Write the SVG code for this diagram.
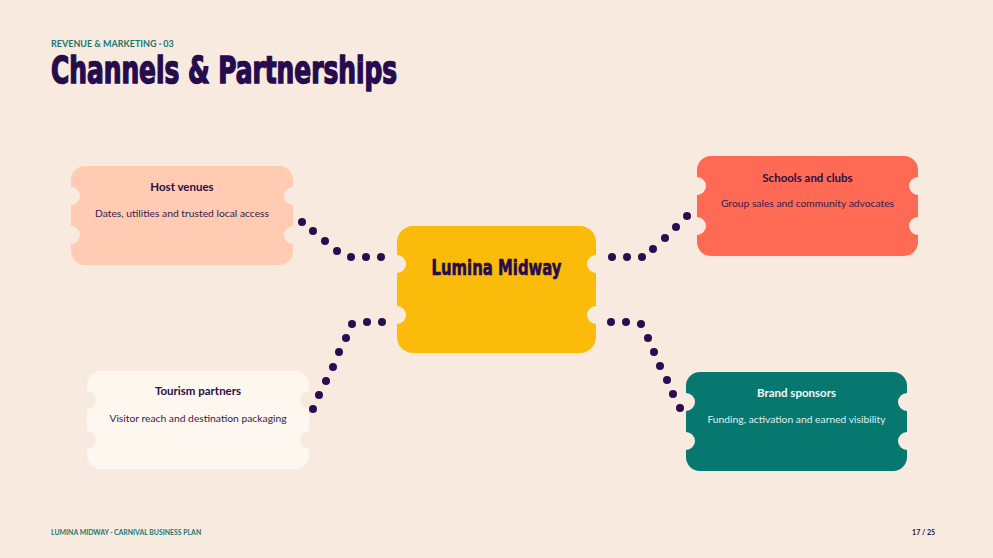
<svg xmlns="http://www.w3.org/2000/svg" width="993" height="558" viewBox="0 0 993 558">
<defs>
<style>
.bg{fill:#f9eadf}
.kicker{font-family:Lato,"Noto Sans",sans-serif;font-weight:700;font-size:9px;fill:#17786f}
.title{font-family:"DejaVu Sans Condensed","Liberation Sans Narrow",sans-serif;font-weight:900;font-size:33px;fill:#260b4d;stroke:#260b4d;stroke-width:1.3px}
.hub{font-family:"DejaVu Sans Condensed","Liberation Sans Narrow",sans-serif;font-weight:900;font-size:21px;fill:#260b4d;stroke:#260b4d;stroke-width:0.6px;text-anchor:middle}
.ct{font-family:Lato,"Noto Sans",sans-serif;font-weight:700;font-size:11.5px;fill:#2a0e45;text-anchor:middle}
.cs{font-family:Lato,"Noto Sans",sans-serif;font-size:10.3px;fill:#3a1a4a;text-anchor:middle}
.foot{font-family:Lato,"Noto Sans",sans-serif;font-weight:700;font-size:6.9px;fill:#17786f}
.page{font-family:Lato,"Noto Sans",sans-serif;font-weight:700;font-size:7px;fill:#2a0e45;text-anchor:end}
.link{fill:none;stroke:none;marker-start:url(#dot);marker-mid:url(#dot);marker-end:url(#dot)}
</style>
<marker id="dot" markerUnits="userSpaceOnUse" markerWidth="10" markerHeight="10" refX="5" refY="5" viewBox="0 0 10 10">
<circle cx="5" cy="5" r="4" fill="#2d0b50"/>
</marker>
</defs>
<rect class="bg" x="0" y="0" width="993" height="558"/>

<text class="kicker" x="51" y="46.5">REVENUE &amp; MARKETING · 03</text>
<text class="title" transform="translate(51,82.5) scale(1,1.12)" x="0" y="0" textLength="346" lengthAdjust="spacingAndGlyphs">Channels &amp; Partnerships</text>

<g id="connectors">
<path class="link" d="M302,222 L313,231 L325,241 L337,251 L351,257 L366,257 L381,257"/>
<path class="link" d="M612,257 L627,257 L642,257 L653,249 L665,238 L676,227 L687,216"/>
<path class="link" d="M382,322 L367,322 L352,324 L346,338 L339,352 L333,367 L326,381 L319,395 L313,409"/>
<path class="link" d="M611,322 L626,322 L641,324 L648,338 L654,352 L660,366 L667,380 L673,394 L680,408"/>
</g>

<g id="host-venues">
<path fill="#ffcbb2" d="M85,166 H279 A14,14 0 0 1 293,180 V187 A9,9 0 0 0 293,205 V226 A9,9 0 0 0 293,244 V251 A14,14 0 0 1 279,265 H85 A14,14 0 0 1 71,251 V244 A9,9 0 0 0 71,226 V205 A9,9 0 0 0 71,187 V180 A14,14 0 0 1 85,166 Z"/>
<text class="ct" x="182" y="191">Host venues</text>
<text class="cs" x="182" y="217">Dates, utilities and trusted local access</text>
</g>

<g id="lumina-midway">
<path fill="#fbbb0b" d="M413,226 H580 A16,16 0 0 1 596,242 V255 A9,9 0 0 0 596,273 V306 A9,9 0 0 0 596,324 V337 A16,16 0 0 1 580,353 H413 A16,16 0 0 1 397,337 V324 A9,9 0 0 0 397,306 V273 A9,9 0 0 0 397,255 V242 A16,16 0 0 1 413,226 Z"/>
<text class="hub" x="496.5" y="275" textLength="130" lengthAdjust="spacingAndGlyphs">Lumina Midway</text>
</g>

<g id="schools-and-clubs">
<path fill="#ff6a55" d="M711,156 H904 A14,14 0 0 1 918,170 V177 A9,9 0 0 0 918,195 V217 A9,9 0 0 0 918,235 V242 A14,14 0 0 1 904,256 H711 A14,14 0 0 1 697,242 V235 A9,9 0 0 0 697,217 V195 A9,9 0 0 0 697,177 V170 A14,14 0 0 1 711,156 Z"/>
<text class="ct" x="807.5" y="182">Schools and clubs</text>
<text class="cs" x="807.5" y="207">Group sales and community advocates</text>
</g>

<g id="tourism-partners">
<path fill="#fef7ef" d="M101,371 H295 A14,14 0 0 1 309,385 V391 A9,9 0 0 0 309,409 V431 A9,9 0 0 0 309,449 V455 A14,14 0 0 1 295,469 H101 A14,14 0 0 1 87,455 V449 A9,9 0 0 0 87,431 V409 A9,9 0 0 0 87,391 V385 A14,14 0 0 1 101,371 Z"/>
<text class="ct" x="198" y="395">Tourism partners</text>
<text class="cs" x="198" y="422">Visitor reach and destination packaging</text>
</g>

<g id="brand-sponsors">
<path fill="#07786f" d="M700,372 H893 A14,14 0 0 1 907,386 V393 A9,9 0 0 0 907,411 V432 A9,9 0 0 0 907,450 V457 A14,14 0 0 1 893,471 H700 A14,14 0 0 1 686,457 V450 A9,9 0 0 0 686,432 V411 A9,9 0 0 0 686,393 V386 A14,14 0 0 1 700,372 Z"/>
<text class="ct" x="796.5" y="397" style="fill:#f3faf8">Brand sponsors</text>
<text class="cs" x="796.5" y="423" style="fill:#dff1ed">Funding, activation and earned visibility</text>
</g>

<text class="foot" x="51" y="535">LUMINA MIDWAY · CARNIVAL BUSINESS PLAN</text>
<text class="page" x="935" y="535">17 / 25</text>
</svg>
